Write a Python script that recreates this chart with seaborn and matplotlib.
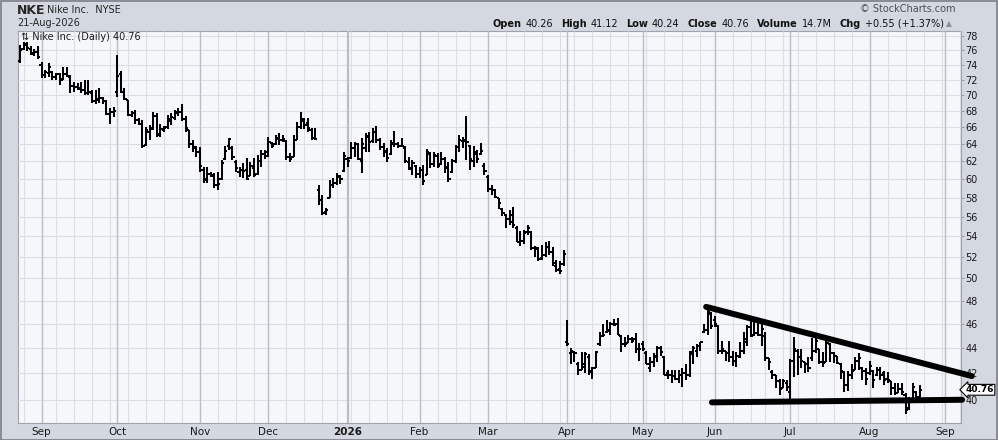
import numpy as np
import pandas as pd
import matplotlib
matplotlib.use("Agg")
import matplotlib.pyplot as plt
import seaborn as sns
from matplotlib.patches import Rectangle
from matplotlib.ticker import FixedLocator, FuncFormatter, NullLocator, NullFormatter

# ---------------- data ----------------
symbol = "NKE"
company = "Nike Inc."
exchange = "NYSE"
as_of = "21-Aug-2026"
start_date = "2025-08-22"
end_calendar = "2026-09-30"
market_holidays = ["2025-09-01", "2025-11-27", "2025-12-25", "2026-01-01", "2026-01-19",
                   "2026-02-16", "2026-04-03", "2026-05-25", "2026-06-19", "2026-07-03",
                   "2026-09-07"]

opens = [
    74.5, 76.2, 76.8, 76.2, 75.6, 75.8,
    74.0, 72.6, 72.9, 73.0, 72.3, 72.7, 72.0, 72.8, 72.4, 71.2, 71.1, 70.8, 70.7, 70.3, 70.2, 69.2, 69.5, 69.6, 69.2, 67.6, 67.8,
    70.4, 72.8, 70.4, 69.4, 67.5, 67.7, 66.9, 66.4, 63.9, 65.4, 65.9, 67.3, 65.2, 65.6, 66.0, 66.8, 67.1, 67.7, 67.9, 67.0, 65.7, 64.0, 63.5,
    63.0, 61.0, 60.0, 60.6, 60.3, 59.4, 60.0, 62.3, 63.8, 63.5, 61.9, 60.8, 61.0, 61.0, 60.3, 61.2, 60.6, 62.0, 62.8,
    62.6, 64.1, 64.0, 64.6, 64.5, 64.3, 62.5, 62.5, 64.5, 66.0, 66.8, 66.5, 65.7, 64.7, 58.8, 57.7, 56.5, 58.0, 59.3, 59.6, 60.2, 60.9,
    62.2, 62.4, 63.5, 64.0, 62.0, 63.5, 64.8, 64.3, 65.4, 64.5, 63.6, 63.0, 62.8, 64.1, 64.0, 63.8, 63.5, 61.9, 61.2, 61.5,
    60.6, 61.0, 60.5, 62.8, 61.7, 62.6, 61.7, 62.2, 61.2, 60.8, 62.0, 63.6, 64.3, 64.3, 63.8, 62.0, 62.8, 62.8, 61.5,
    60.2, 58.9, 58.8, 58.0, 56.8, 56.2, 55.8, 56.2, 54.8, 53.5, 53.6, 54.4, 54.4, 52.9, 52.8, 51.9, 52.2, 53.0, 52.5, 51.2, 50.9, 51.3,
    44.5, 43.6, 43.7, 42.7, 42.3, 42.5, 43.3, 42.2, 42.4, 44.3, 45.0, 45.3, 45.4, 46.0, 46.0, 45.0, 44.3, 44.4, 44.7, 44.7, 43.9,
    44.3, 43.6, 42.4, 42.9, 43.3, 44.0, 43.3, 42.0, 41.9, 41.8, 41.6, 41.9, 42.0, 41.9, 43.5, 43.8, 44.2, 45.3, 45.5, 46.8,
    46.3, 45.8, 43.8, 43.8, 43.6, 43.3, 43.0, 43.3, 43.8, 44.5, 45.7, 45.1, 45.2, 45.1, 45.0, 43.2, 42.1, 41.9, 41.4, 40.9, 41.3,
    40.6, 43.0, 43.8, 43.3, 42.9, 42.7, 43.2, 43.8, 43.9, 42.9, 42.9, 44.3, 43.6, 43.4, 42.7, 42.1, 41.1, 41.9, 42.3, 43.0, 42.4, 42.2,
    42.0, 42.2, 41.9, 42.3, 42.0, 41.6, 41.4, 40.9, 40.5, 40.8, 40.4, 39.4, 39.9, 40.6, 40.26,
]
highs = [
    76.7, 77.2, 77.1, 76.6, 76.2, 76.6,
    74.4, 73.3, 74.2, 73.1, 72.9, 72.9, 73.7, 73.7, 72.6, 71.7, 71.5, 71.7, 72.0, 72.0, 70.6, 70.6, 70.9, 69.8, 69.4, 68.3, 68.5,
    75.3, 73.1, 70.9, 69.4, 68.0, 68.1, 67.1, 66.9, 66.0, 66.2, 67.9, 67.7, 66.4, 66.1, 67.5, 67.7, 68.1, 68.4, 68.9, 67.3, 65.7, 64.5, 63.7,
    63.6, 61.3, 61.3, 60.8, 60.7, 60.8, 62.1, 63.7, 64.7, 63.7, 62.1, 61.3, 61.8, 62.4, 61.9, 62.4, 62.7, 63.3, 63.3,
    64.8, 64.2, 65.0, 65.3, 65.0, 64.4, 62.9, 65.0, 66.6, 67.8, 67.1, 67.1, 65.9, 65.9, 59.3, 58.3, 56.9, 59.9, 60.1, 60.7, 60.4, 63.0,
    62.5, 64.2, 64.2, 64.1, 64.7, 65.3, 65.4, 65.9, 66.1, 64.7, 64.1, 63.5, 64.5, 65.5, 64.2, 64.7, 63.7, 62.5, 62.1, 61.6,
    61.3, 61.6, 63.4, 63.0, 63.0, 62.9, 63.0, 62.5, 61.9, 62.3, 63.9, 65.0, 64.8, 67.3, 63.9, 63.7, 63.3, 64.1, 61.8,
    60.4, 59.4, 58.9, 58.0, 56.9, 56.3, 56.7, 57.0, 55.0, 54.5, 54.6, 55.1, 54.5, 53.1, 53.0, 53.2, 53.5, 53.6, 53.0, 51.7, 51.6, 52.7,
    46.3, 44.0, 43.8, 42.9, 43.7, 43.7, 43.5, 42.5, 43.8, 45.3, 46.0, 46.3, 46.2, 46.4, 46.5, 45.1, 44.9, 45.1, 44.9, 45.2, 44.4,
    44.6, 43.8, 43.3, 43.6, 44.2, 44.2, 43.4, 42.3, 42.3, 42.3, 42.3, 42.4, 42.7, 43.8, 44.2, 44.3, 44.5, 46.0, 47.6, 47.0,
    46.7, 45.9, 44.6, 43.8, 44.6, 43.8, 43.7, 44.5, 45.3, 45.9, 46.3, 46.3, 46.2, 46.2, 45.3, 43.2, 42.3, 41.9, 41.6, 41.6, 41.5,
    43.1, 44.9, 43.9, 43.9, 42.9, 43.3, 44.8, 45.1, 43.9, 43.7, 44.6, 44.4, 43.7, 43.4, 42.8, 42.2, 42.2, 42.7, 43.3, 43.6, 42.5, 42.4,
    43.0, 42.3, 42.5, 42.5, 42.2, 42.1, 41.4, 41.3, 41.3, 41.3, 40.5, 40.2, 41.3, 40.7, 41.12,
]
lows = [
    74.2, 76.0, 75.9, 75.3, 75.2, 74.8,
    72.2, 72.2, 72.4, 72.0, 72.0, 71.3, 72.0, 72.4, 70.2, 70.4, 70.6, 70.2, 70.0, 70.0, 69.0, 68.9, 69.0, 68.9, 67.5, 66.4, 67.2,
    69.8, 70.2, 69.4, 67.3, 67.2, 66.4, 66.3, 63.5, 63.7, 64.4, 65.6, 64.8, 64.8, 65.4, 65.8, 66.3, 66.9, 67.3, 66.7, 65.4, 63.5, 63.1, 62.5,
    60.8, 59.6, 59.6, 60.2, 59.0, 58.8, 59.9, 62.1, 63.3, 62.1, 60.8, 60.2, 60.1, 59.9, 60.3, 60.2, 60.4, 61.3, 62.3,
    62.5, 63.5, 63.9, 63.9, 64.2, 62.1, 61.9, 62.5, 64.4, 65.8, 65.8, 65.4, 64.4, 64.4, 57.2, 56.2, 56.2, 57.9, 59.0, 59.3, 59.5, 60.8,
    61.3, 62.3, 62.5, 62.1, 60.7, 63.0, 63.0, 64.1, 64.1, 63.3, 62.5, 61.9, 62.7, 63.6, 63.5, 63.6, 61.8, 61.0, 60.4, 60.1,
    60.1, 59.3, 60.4, 61.2, 61.3, 61.2, 61.6, 60.7, 59.7, 60.7, 61.8, 63.0, 63.5, 62.1, 61.0, 61.3, 61.8, 62.7, 60.4,
    58.6, 58.3, 58.0, 56.8, 56.1, 54.8, 55.1, 54.8, 53.5, 53.1, 53.3, 54.1, 52.7, 52.0, 51.6, 51.7, 52.0, 52.2, 51.2, 50.6, 50.4, 51.2,
    44.2, 42.7, 42.9, 41.9, 42.3, 42.0, 41.9, 41.6, 42.4, 44.2, 44.9, 45.2, 45.1, 45.8, 45.1, 43.7, 44.1, 44.4, 44.4, 43.6, 43.0,
    43.8, 42.7, 42.1, 42.5, 42.9, 43.4, 41.9, 41.6, 41.3, 41.5, 41.3, 41.0, 41.5, 41.7, 42.7, 43.3, 43.8, 45.2, 45.1, 45.6,
    45.7, 43.5, 43.5, 43.0, 42.9, 42.6, 42.5, 43.2, 43.5, 44.2, 44.9, 45.0, 45.0, 44.2, 43.0, 42.3, 41.6, 40.9, 40.4, 40.9, 40.7,
    39.95, 41.7, 41.9, 42.4, 42.0, 42.1, 43.0, 43.6, 42.7, 42.5, 42.9, 42.9, 42.8, 42.7, 41.6, 40.6, 40.7, 41.6, 42.3, 42.3, 41.5, 41.1,
    41.9, 40.9, 41.8, 41.5, 41.1, 41.3, 40.4, 40.4, 40.5, 40.4, 39.0, 39.3, 39.9, 39.9, 40.24,
]
closes = [
    76.0, 76.9, 76.3, 75.5, 75.7, 75.0,
    72.6, 73.0, 73.7, 72.3, 72.8, 72.1, 72.8, 72.5, 71.2, 71.0, 70.9, 70.7, 70.3, 70.4, 69.2, 69.4, 69.6, 69.2, 67.6, 67.8, 68.0,
    72.5, 70.4, 69.5, 67.5, 67.7, 66.9, 66.4, 63.7, 65.6, 65.8, 67.4, 65.0, 65.8, 65.9, 67.0, 67.2, 67.8, 67.9, 67.0, 65.9, 64.0, 63.6, 63.0,
    61.4, 59.9, 60.6, 60.4, 59.4, 59.5, 61.8, 63.2, 64.6, 62.5, 61.2, 61.0, 60.9, 60.0, 61.4, 60.4, 62.0, 62.8, 63.1,
    64.2, 63.7, 64.7, 64.5, 64.6, 62.5, 62.2, 64.5, 66.0, 67.0, 66.3, 65.9, 64.7, 64.6, 57.7, 56.4, 56.7, 59.3, 59.6, 60.3, 60.0, 62.6,
    62.0, 63.5, 64.0, 62.3, 64.0, 64.9, 64.2, 65.4, 64.5, 63.6, 63.2, 62.4, 64.0, 64.0, 63.8, 63.7, 62.0, 61.1, 61.8, 60.6,
    61.0, 59.8, 63.0, 61.7, 62.7, 61.4, 62.3, 61.3, 60.0, 62.0, 63.6, 64.4, 64.5, 64.2, 62.3, 63.0, 62.2, 63.2, 60.9,
    58.9, 58.8, 58.1, 57.4, 56.4, 55.8, 55.5, 55.1, 53.5, 53.6, 54.3, 54.8, 52.9, 52.9, 51.8, 52.2, 53.0, 52.5, 51.4, 50.8, 50.7, 52.3,
    44.3, 43.8, 43.6, 42.3, 42.7, 43.5, 42.1, 42.4, 43.7, 45.0, 45.1, 45.5, 46.0, 45.9, 45.1, 44.3, 44.3, 44.7, 44.6, 43.9, 43.9,
    43.9, 42.7, 42.9, 43.4, 44.0, 43.7, 41.9, 41.9, 41.8, 41.6, 41.9, 42.0, 41.9, 43.7, 44.0, 44.2, 44.5, 45.5, 47.0, 45.8,
    46.0, 43.8, 43.9, 43.6, 43.3, 43.0, 43.4, 43.8, 44.7, 45.7, 45.0, 45.2, 45.1, 45.6, 43.2, 42.9, 41.9, 41.4, 40.8, 41.4, 41.0,
    43.0, 43.9, 43.3, 43.0, 42.7, 42.4, 43.8, 44.6, 42.9, 42.8, 44.4, 43.6, 43.4, 42.8, 42.2, 41.1, 41.9, 42.2, 43.0, 43.2, 42.2, 41.6,
    42.6, 41.5, 42.3, 41.9, 41.5, 41.5, 40.9, 40.5, 40.8, 40.6, 39.3, 39.9, 41.0, 40.21, 40.76,
]

last_open, last_high, last_low, last_close = 40.26, 41.12, 40.24, 40.76
volume_text = "14.7M"
change_text = "+0.55 (+1.37%)"

price_ticks = list(range(40, 80, 2))

# hand-drawn trendlines (bar-position, price)
resist_x = [190.6, 264.4]
resist_y = [47.46, 41.80]
support_x = [192.2, 261.7]
support_y = [39.83, 40.02]

# ---------------- style ----------------
sns.set_style("white")
plt.rcParams["font.family"] = ["DejaVu Sans"]

W, H = 998, 440
HEADER_BG = "#D4D8E0"
PLOT_BG = "#F6F7FA"
GRID_C = "#DCDEE4"
MONTH_C = "#B9BDC5"

fig = plt.figure(figsize=(W / 100, H / 100), dpi=100, facecolor=HEADER_BG)
ax = fig.add_axes([18 / W, 1 - 423 / H, (961 - 18) / W, (423 - 31) / H])
ax.set_facecolor(PLOT_BG)

n = min(len(opens), len(highs), len(lows), len(closes))
hol = pd.to_datetime(market_holidays)
cal = pd.bdate_range(start_date, end_calendar, freq="C", holidays=hol)

XMIN, XMAX = -0.56, 261.4

# ---------------- grid ----------------
for p in price_ticks:
    ax.axhline(p, color=GRID_C, lw=0.8, zorder=0)
for i in range(1, len(cal)):
    if i > XMAX:
        break
    if cal[i].month != cal[i - 1].month:
        lw = 1.6 if cal[i].year != cal[i - 1].year else 1.0
        ax.axvline(i, color=MONTH_C, lw=lw, zorder=0.5)
    elif cal[i].weekday() < cal[i - 1].weekday():
        ax.axvline(i, color=GRID_C, lw=0.8, zorder=0)

# ---------------- OHLC bars ----------------
tick = 0.6
rows = []
for i in range(n):
    lo = min(lows[i], opens[i], closes[i])
    hi = max(highs[i], opens[i], closes[i])
    rows.append((i, lo, 3 * i))
    rows.append((i, hi, 3 * i))
    rows.append((i - tick, opens[i], 3 * i + 1))
    rows.append((i, opens[i], 3 * i + 1))
    rows.append((i, closes[i], 3 * i + 2))
    rows.append((i + tick, closes[i], 3 * i + 2))
seg = pd.DataFrame(rows, columns=["x", "price", "unit"])
sns.lineplot(data=seg, x="x", y="price", units="unit", estimator=None, sort=False,
             color="black", linewidth=1.45, ax=ax, legend=False)
for ln in ax.lines:
    ln.set_solid_capstyle("butt")
    ln.set_zorder(3)

# ---------------- trendlines ----------------
for tx, ty in ((resist_x, resist_y), (support_x, support_y)):
    before = len(ax.lines)
    sns.lineplot(x=tx, y=ty, color="black", linewidth=4.3, sort=False, ax=ax, legend=False)
    for ln in ax.lines[before:]:
        ln.set_clip_on(False)
        ln.set_solid_capstyle("round")
        ln.set_zorder(5)

# ---------------- axes ----------------
ax.set_yscale("log")
ax.set_ylim(38.35, 78.73)
ax.set_xlim(XMIN, XMAX)
ax.yaxis.set_major_locator(FixedLocator(price_ticks))
ax.yaxis.set_major_formatter(FuncFormatter(lambda v, p: f"{v:.0f}"))
ax.yaxis.set_minor_locator(NullLocator())
ax.yaxis.set_minor_formatter(NullFormatter())
ax.yaxis.tick_right()
ax.tick_params(axis="y", which="major", direction="out", length=2, width=0.6,
               color="#8A8E96", labelsize=7, pad=1, labelcolor="#1A1A1A")

month_pos, month_lab = [], []
for i in range(1, len(cal)):
    if i > XMAX:
        break
    if cal[i].month != cal[i - 1].month:
        month_pos.append(i)
        month_lab.append(str(cal[i].year) if cal[i].month == 1 else cal[i].strftime("%b"))
ax.set_xticks(month_pos)
ax.set_xticklabels(month_lab)
ax.tick_params(axis="x", length=0, labelsize=7.5, pad=3, labelcolor="#1A1A1A")
for t in ax.get_xticklabels():
    if t.get_text().isdigit():
        t.set_fontweight("bold")
ax.set_xlabel("")
ax.set_ylabel("")
for s in ax.spines.values():
    s.set_color("#9EA2AA")
    s.set_linewidth(0.8)

# last price marker
ax.annotate(f"{last_close:.2f}", xy=(1.0, last_close), xycoords=("axes fraction", "data"),
            xytext=(3.2, 0), textcoords="offset points", va="center", ha="left",
            fontsize=6.5, fontweight="bold", color="black", annotation_clip=False,
            bbox=dict(boxstyle="larrow,pad=0.1", fc="white", ec="black", lw=0.8), zorder=6)

# ---------------- header texts ----------------
def fx(x):
    return x / W

def fy(y):
    return 1 - y / H

fig.text(fx(17), fy(10), symbol, fontsize=9, fontweight="bold", va="center", ha="left")
fig.text(fx(47), fy(10), f"{company}  {exchange}", fontsize=7, va="center", ha="left")
fig.text(fx(17), fy(23), as_of, fontsize=7, va="center", ha="left")
fig.text(fx(955), fy(8.5), "\u00a9 StockCharts.com", fontsize=7, va="center", ha="right",
         color="#505050")
ax.text(0.003, 1 - 6 / 392, f"\u21c5 {company} (Daily) {last_close:.2f}",
        transform=ax.transAxes, fontsize=7, va="center", ha="left", color="#1A1A1A", zorder=6)

pieces = [("Open", True), (f"{last_open:.2f}", False), ("High", True), (f"{last_high:.2f}", False),
          ("Low", True), (f"{last_low:.2f}", False), ("Close", True), (f"{last_close:.2f}", False),
          ("Volume", True), (volume_text, False), ("Chg", True), (change_text, False)]
renderer = fig.canvas.get_renderer()
widths = []
texts = []
for s, b in pieces:
    t = fig.text(0, fy(24), s, fontsize=7, fontweight="bold" if b else "normal",
                 va="center", ha="left", color="#111111")
    widths.append(t.get_window_extent(renderer).width)
    texts.append(t)
gaps = []
for k in range(len(pieces)):
    gaps.append(4 if pieces[k][1] else 8)
total = sum(widths) + sum(gaps[:-1])
x = 944 - total
for k, t in enumerate(texts):
    t.set_x(fx(x))
    x += widths[k] + gaps[k]
fig.text(fx(946), fy(24), "\u25b2", fontsize=5.5, va="center", ha="left", color="#8A8F99")

# outer border
fig.add_artist(Rectangle((0.5 / W, 0.5 / H), 1 - 1.5 / W, 1 - 1.5 / H, transform=fig.transFigure,
                         fill=False, ec="#7C7F86", lw=1.2))

fig.savefig("out.png", dpi=100, facecolor=HEADER_BG)
